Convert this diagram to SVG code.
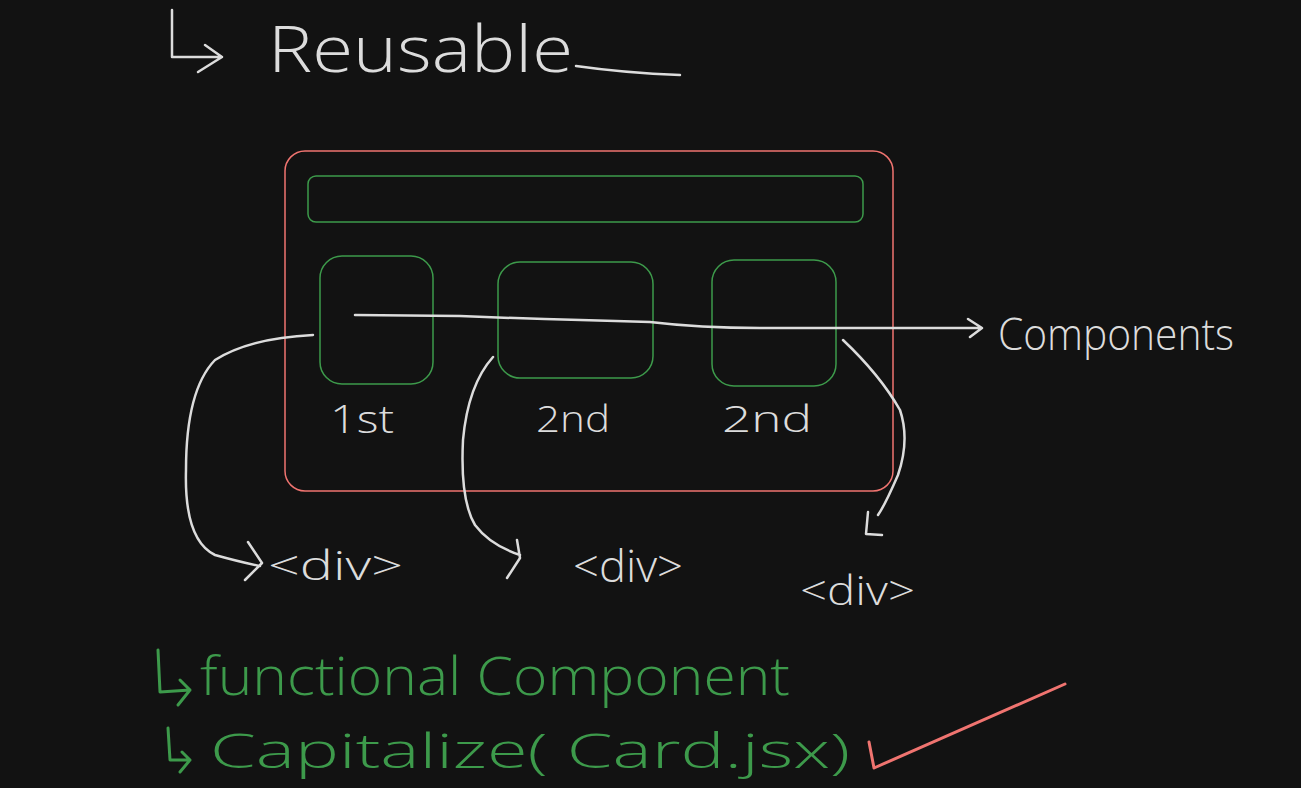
<svg xmlns="http://www.w3.org/2000/svg" width="1301" height="788" viewBox="0 0 1301 788">
<defs>
<style>
.bg{fill:#121212}
.w{fill:none;stroke:#dcdcdc;stroke-width:2.5;stroke-linecap:round;stroke-linejoin:round}
.g{fill:none;stroke:#3d9a4b;stroke-width:1.5}
.gs{fill:none;stroke:#3d9a4b;stroke-width:3;stroke-linecap:round;stroke-linejoin:round}
.r{fill:none;stroke:#f07470;stroke-width:1.5}
.rs{fill:none;stroke:#f07470;stroke-width:3;stroke-linecap:round;stroke-linejoin:round}
.tw{fill:#dcdcdc;font-family:"Open Sans","Liberation Sans",sans-serif;font-weight:300}
.tg{fill:#3d9a4b;font-family:"Open Sans","Liberation Sans",sans-serif;font-weight:300}
</style>
</defs>
<rect class="bg" x="0" y="0" width="1301" height="788"/>

<g id="heading">
<path class="w" d="M172 10 L172 57 L222 57 M205 45 L222 57 L198 72"/>
<text class="tw" x="268" y="72" font-size="64" textLength="305" lengthAdjust="spacingAndGlyphs">Reusable</text>
<path class="w" d="M576 66 Q625 73 680 75"/>
</g>

<g id="card">
<rect class="r" x="285" y="151" width="608" height="340" rx="20"/>
</g>
<g id="header-bar">
<rect class="g" x="308" y="176" width="555" height="46" rx="8"/>
</g>
<g id="box1">
<rect class="g" x="320" y="256" width="113" height="128" rx="22"/>
<text class="tw" x="330" y="433" font-size="38" textLength="64" lengthAdjust="spacingAndGlyphs">1st</text>
</g>
<g id="box2">
<rect class="g" x="498" y="262" width="155" height="116" rx="22"/>
<text class="tw" x="536" y="432" font-size="36" textLength="74" lengthAdjust="spacingAndGlyphs">2nd</text>
</g>
<g id="box3">
<rect class="g" x="712" y="260" width="124" height="126" rx="22"/>
<text class="tw" x="722" y="432" font-size="36" textLength="90" lengthAdjust="spacingAndGlyphs">2nd</text>
</g>

<g id="connectors">
<path class="w" d="M355 315 L460 316 Q560 320 650 322 Q700 328 760 328 L980 328 M968 319 L982 328 L970 337"/>
<path class="w" d="M313 335 Q250 338 215 360 Q186 390 186 470 Q184 540 215 555 Q240 562 260 566 M248 542 L262 563 L245 580"/>
<path class="w" d="M493 357 Q468 385 463 440 Q460 500 475 525 Q490 545 520 555 M517 540 L520 558 L507 578"/>
<path class="w" d="M843 340 Q880 375 900 410 Q910 440 898 475 Q885 505 878 515 M868 512 L866 534 L882 535"/>
</g>

<g id="label-components">
<text class="tw" x="998" y="350" font-size="44" textLength="236" lengthAdjust="spacingAndGlyphs">Components</text>
</g>
<g id="div1">
<text class="tw" x="268" y="580" font-size="40" textLength="135" lengthAdjust="spacingAndGlyphs">&lt;div&gt;</text>
</g>
<g id="div2">
<text class="tw" x="573" y="582" font-size="44" textLength="110" lengthAdjust="spacingAndGlyphs">&lt;div&gt;</text>
</g>
<g id="div3">
<text class="tw" x="800" y="605" font-size="40" textLength="115" lengthAdjust="spacingAndGlyphs">&lt;div&gt;</text>
</g>

<g id="notes">
<path class="gs" d="M158 650 L160 692 L190 690 M180 680 L190 690 L178 705"/>
<text class="tg" x="200" y="695" font-size="54" textLength="590" lengthAdjust="spacingAndGlyphs">functional Component</text>
<path class="gs" d="M168 728 L170 760 L190 760 M182 752 L190 760 L180 772"/>
<text class="tg" x="210" y="768" font-size="48" textLength="640" lengthAdjust="spacingAndGlyphs">Capitalize( Card.jsx)</text>
<path class="rs" d="M869 742 L874 768 L1065 684"/>
</g>
</svg>
